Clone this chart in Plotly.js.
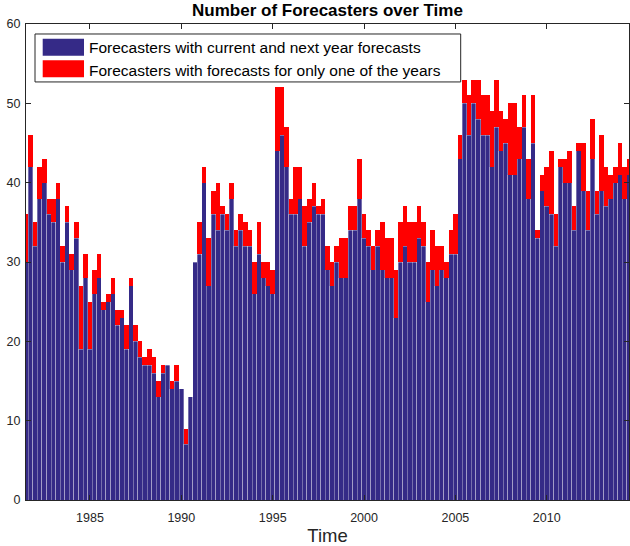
<!DOCTYPE html>
<html>
<head>
<meta charset="utf-8">
<script src="https://cdn.plot.ly/plotly-3.0.1.min.js"></script>
<style>
  html, body { margin: 0; padding: 0; background: #fff; }
  #chart { width: 630px; height: 546px; }
</style>
</head>
<body>
<div id="chart"></div>
<script>
// Quarterly observations, first quarter is 1981.5 (mid-1981), one bar per quarter
const firstQuarter = 1981.5;
const quarterStep = 0.25;

// Forecasters with current and next year forecasts
const bothYears = [
  30,42,32,38,40,36,35,38,30,35,
  29,33,19,28,19,26,28,24,25,26,
  22,23,19,27,20,18,17,17,16,13,
  16,17,14,15,14,7,13,30,31,40,
  27,36,34,36,34,38,32,34,32,32,
  26,31,28,27,26,44,46,42,36,36,
  38,32,35,37,36,36,29,27,30,28,
  28,34,34,38,33,32,29,32,29,28,
  28,23,30,32,30,30,33,32,25,29,
  27,29,28,31,31,43,50,46,50,48,
  46,46,42,47,44,45,41,41,43,47,
  38,45,33,39,37,36,32,42,40,40,
  34,44,39,34,43,36,39,37,38,40,
  41,38,41
];

// Forecasters with forecasts for only one of the years
const oneYearOnly = [
  6,4,3,4,3,2,3,2,2,2,
  2,2,8,3,6,3,3,1,1,2,
  2,1,3,1,2,2,1,2,2,2,
  1,0,1,2,0,2,0,0,4,2,
  6,3,6,1,2,2,2,2,3,2,
  4,4,2,3,3,8,6,5,2,6,
  4,5,3,3,1,2,3,3,2,5,
  5,3,3,5,3,2,3,2,6,5,
  5,6,5,5,5,5,4,3,5,5,
  5,3,2,3,5,3,3,5,3,5,
  5,5,7,6,5,3,9,9,4,4,
  5,6,1,2,5,8,4,1,3,4,
  3,1,6,5,5,3,7,5,3,2,
  4,4,2
];

const xTickVals = [1985, 1990, 1995, 2000, 2005, 2010];
const yTickVals = [0, 10, 20, 30, 40, 50, 60];
const seriesNames = [
  'Forecasters with current and next year forecasts',
  'Forecasters with forecasts for only one of the years'
];
const seriesColors = ['#352A87', '#FF0000'];

const quarters = bothYears.map((_, i) => firstQuarter + i * quarterStep);

const traces = [
  {
    type: 'bar', x: quarters, y: bothYears, name: seriesNames[0],
    marker: { color: seriesColors[0], line: { color: 'rgba(255,255,255,0.4)', width: 0.8 } },
    hoverinfo: 'x+y'
  },
  {
    type: 'bar', x: quarters, y: oneYearOnly, name: seriesNames[1],
    marker: { color: seriesColors[1], line: { width: 0 } },
    hoverinfo: 'x+y'
  }
];

// plot area in pixels: left 26, right 629, top 24, bottom 500.5
const L = 26, R = 629, T = 24, B = 500.5;
const px = v => (v - L) / (R - L);
const py = v => (B - v) / (B - T);

const shapes = [
  { type: 'rect', xref: 'paper', yref: 'paper', x0: px(35), x1: px(460.7), y0: py(82), y1: py(34),
    line: { color: '#262626', width: 1 }, fillcolor: '#ffffff' },
  { type: 'rect', xref: 'paper', yref: 'paper', x0: px(42.7), x1: px(84), y0: py(55.7), y1: py(38.7),
    line: { width: 0 }, fillcolor: seriesColors[0] },
  { type: 'rect', xref: 'paper', yref: 'paper', x0: px(42.7), x1: px(84), y0: py(77.3), y1: py(60.3),
    line: { width: 0 }, fillcolor: seriesColors[1] }
];

const legendFont = { family: 'Liberation Sans, Arial, sans-serif', size: 15.5, color: '#000' };
const annotations = [
  { xref: 'paper', yref: 'paper', x: px(87), y: py(47.5), xanchor: 'left', yanchor: 'middle',
    text: seriesNames[0], showarrow: false, font: legendFont },
  { xref: 'paper', yref: 'paper', x: px(87), y: py(70.5), xanchor: 'left', yanchor: 'middle',
    text: seriesNames[1], showarrow: false, font: legendFont }
];

const axisFont = { family: 'Liberation Sans, Arial, sans-serif', size: 12.5, color: '#262626' };

const layout = {
  width: 630, height: 546,
  margin: { l: L, r: 630 - R, t: T, b: 546 - B },
  paper_bgcolor: '#ffffff', plot_bgcolor: '#ffffff',
  barmode: 'stack', bargap: 0,
  showlegend: false,
  title: {
    text: '<b>Number of Forecasters over Time</b>',
    font: { family: 'Liberation Sans, Arial, sans-serif', size: 17, color: '#000' },
    x: 0.5, xref: 'paper', xanchor: 'center', y: 1 - 10 / 546, yref: 'container', yanchor: 'middle'
  },
  xaxis: {
    range: [firstQuarter, firstQuarter + (bothYears.length - 1) * quarterStep],
    tickmode: 'array', tickvals: xTickVals, ticktext: xTickVals.map(String),
    ticks: 'inside', ticklen: 5, tickcolor: '#262626', tickwidth: 1,
    showline: true, linecolor: '#262626', linewidth: 1, mirror: 'ticks',
    showgrid: false, zeroline: false,
    tickfont: axisFont, ticklabelstandoff: 6,
    title: { text: 'Time', font: { family: 'Liberation Sans, Arial, sans-serif', size: 18.5, color: '#262626' }, standoff: 7 }
  },
  yaxis: {
    range: [0, 60],
    tickmode: 'array', tickvals: yTickVals, ticktext: yTickVals.map(String),
    ticks: 'inside', ticklen: 5, tickcolor: '#262626', tickwidth: 1,
    showline: true, linecolor: '#262626', linewidth: 1, mirror: 'ticks',
    showgrid: false, zeroline: false,
    tickfont: axisFont, ticklabelstandoff: 2
  },
  shapes: shapes,
  annotations: annotations
};

Plotly.newPlot('chart', traces, layout, { staticPlot: true, displayModeBar: false });
</script>
</body>
</html>
